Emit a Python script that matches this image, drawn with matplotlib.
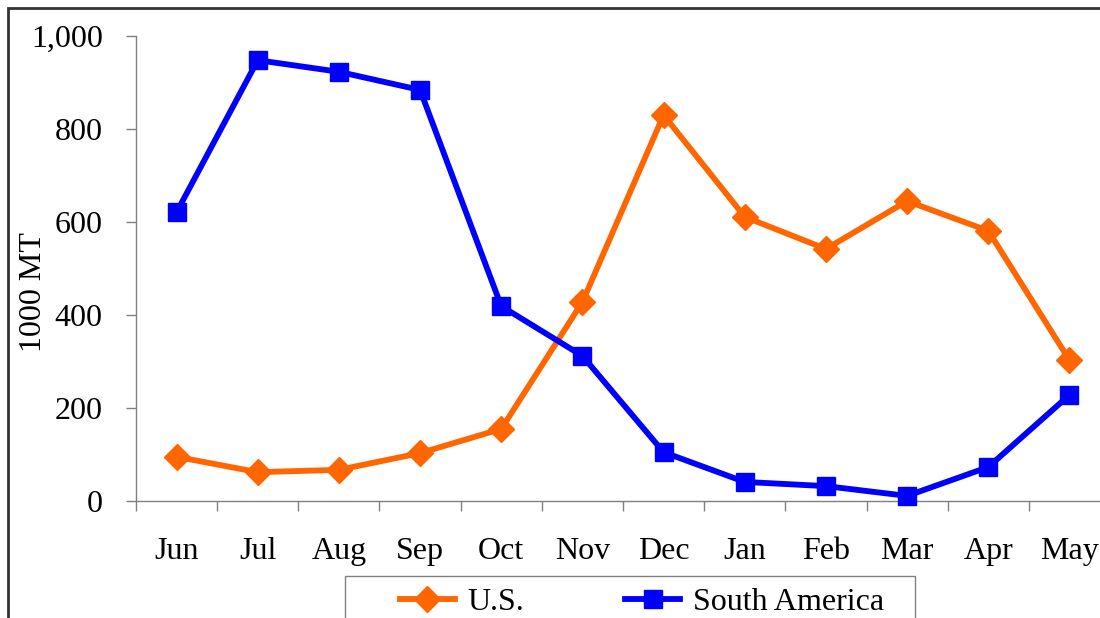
import matplotlib
matplotlib.use("Agg")
import matplotlib.pyplot as plt
from matplotlib.patches import Rectangle
from matplotlib.ticker import FuncFormatter, FixedLocator

months = ["Jun", "Jul", "Aug", "Sep", "Oct", "Nov", "Dec", "Jan", "Feb", "Mar", "Apr", "May"]
us = [95, 62, 67, 103, 155, 428, 830, 611, 542, 645, 581, 303]
south_america = [621, 948, 923, 884, 419, 312, 105, 41, 32, 11, 73, 228]
y_ticks = [0, 200, 400, 600, 800, 1000]

plt.rcParams['font.family'] = ['Liberation Serif', 'DejaVu Serif']
FS = 23

W, H = 1100, 618
fig = plt.figure(figsize=(W / 100, H / 100), dpi=100)

# axes placed in pixel terms (right side runs off the picture like the original)
left, right, top, bottom = 136, 1110, 36, 501
ax = fig.add_axes([left / W, 1 - bottom / H, (right - left) / W, (bottom - top) / H])

x = list(range(len(months)))
ax.plot(x, us, color="#FF6600", lw=4.2, marker="D", ms=13, label="U.S.", clip_on=False, zorder=3)
ax.plot(x, south_america, color="#0000FF", lw=4.2, marker="s", ms=13.5, label="South America",
        clip_on=False, zorder=3)

ax.set_xlim(-0.5, len(months) - 0.5)
ax.set_ylim(0, 1000)
ax.set_yticks(y_ticks)
ax.yaxis.set_major_formatter(FuncFormatter(lambda v, p: f"{int(v):,}"))
ax.xaxis.set_major_locator(FixedLocator([i - 0.5 for i in range(len(months) + 1)]))
ax.xaxis.set_minor_locator(FixedLocator(x))
ax.set_xticklabels([])
ax.set_xticklabels(months, minor=True)
ax.tick_params(axis="x", which="minor", length=0, pad=26, labelsize=FS)
ax.tick_params(axis="x", which="major", length=7, width=1, color="#808080", direction="out")
ax.tick_params(axis="y", length=7, width=1, color="#808080", labelsize=FS, pad=17)

for s in ["top", "right"]:
    ax.spines[s].set_visible(False)
for s in ["left", "bottom"]:
    ax.spines[s].set_color("#808080")
    ax.spines[s].set_linewidth(1)

ax.set_ylabel("1000 MT", fontsize=FS)
ax.yaxis.set_label_coords((48 - left) / (right - left), (bottom - 292) / (bottom - top))

# outer chart border
fig.patches.append(Rectangle((8 / W, -0.1), 1.2, 1 - 8 / H + 0.1, transform=fig.transFigure,
                             fill=False, ec="#333333", lw=2, clip_on=False))

# legend frame (runs off the bottom of the picture)
fig.patches.append(Rectangle((345 / W, -0.1), 570 / W, 0.1 + 1 - 576 / H, transform=fig.transFigure,
                             fill=False, ec="#808080", lw=1, clip_on=False))
fig.legend(loc="center left", bbox_to_anchor=(400 / W, 1 - 602 / H), ncol=2, fontsize=FS,
           frameon=False, handlelength=1.72, borderpad=0, handletextpad=0.4,
           columnspacing=3.15, borderaxespad=0)

fig.savefig("out.png", dpi=100)
